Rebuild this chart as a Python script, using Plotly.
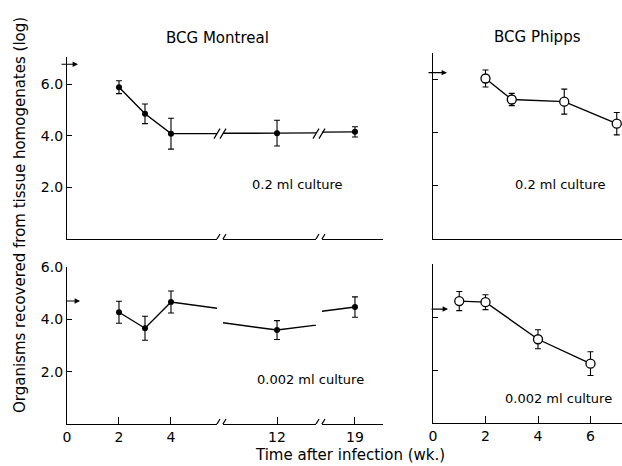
import plotly.graph_objects as go

# ---------------- data ----------------
montreal_hi_weeks = [2, 3, 4, 12, 19]
montreal_hi_vals = [5.88, 4.85, 4.08, 4.10, 4.15]
montreal_hi_err = [0.25, 0.38, 0.60, 0.50, 0.20]

montreal_lo_weeks = [2, 3, 4, 12, 19]
montreal_lo_vals = [4.27, 3.66, 4.66, 3.59, 4.47]
montreal_lo_err = [0.42, 0.46, 0.42, 0.36, 0.39]

phipps_hi_weeks = [2, 3, 5, 7]
phipps_hi_vals = [6.04, 5.25, 5.17, 4.34]
phipps_hi_err = [0.32, 0.23, 0.47, 0.42]

phipps_lo_weeks = [1, 2, 4, 6]
phipps_lo_vals = [4.60, 4.56, 3.16, 2.24]
phipps_lo_err = [0.36, 0.28, 0.36, 0.45]

# inoculum (arrow) levels: [0.2 ml, 0.002 ml]
montreal_inoculum = [6.77, 4.70]
phipps_inoculum = [6.26, 4.30]

y_tick_vals = [2, 4, 6]
y_tick_text = ["2.0", "4.0", "6.0"]
left_seg_ticks = [[0, 2, 4], [12], [19]]
right_x_ticks = [0, 2, 4, 6]

# ---------------- layout helpers ----------------
W, H = 622, 466
FONT = "DejaVu Sans"


def px(x):
    return x / W


def py(y):
    return 1 - y / H


# left panel x segments (pixel domains) and week ranges
seg_dom = [(67, 217), (223, 316), (322, 383)]
seg_rng = [(0, 5.77), (9.92, 13.5), (17.73, 20.08)]

fig = go.Figure()

layout = dict(
    width=W, height=H,
    margin=dict(l=0, r=0, t=0, b=0),
    paper_bgcolor="white", plot_bgcolor="white",
    showlegend=False,
    font=dict(family=FONT, size=14, color="black"),
)

axis_common = dict(showgrid=False, zeroline=False, showline=True, linecolor="black",
                   linewidth=1.3, automargin=False, tickcolor="black", tickwidth=1.2)

# y axes
layout["yaxis"] = dict(axis_common, domain=[py(239), py(57)], range=[0, 7.05], anchor="x",
                       tickvals=y_tick_vals, ticktext=y_tick_text, ticks="inside", ticklen=5,
                       tickfont=dict(size=14))
layout["yaxis2"] = dict(axis_common, domain=[py(424), py(267)], range=[0, 6.0], anchor="x4",
                        tickvals=y_tick_vals, ticktext=y_tick_text, ticks="inside", ticklen=5,
                        tickfont=dict(size=14))
layout["yaxis3"] = dict(axis_common, domain=[py(239), py(53)], range=[0, 7.0], anchor="x7",
                        tickvals=y_tick_vals, ticks="inside", ticklen=5, showticklabels=False)
layout["yaxis4"] = dict(axis_common, domain=[py(423), py(264)], range=[0, 6.0], anchor="x8",
                        tickvals=y_tick_vals, ticks="inside", ticklen=5, showticklabels=False)

# left panel x segments: top (x, x2, x3) and bottom (x4, x5, x6)
for i in range(3):
    top_name = "xaxis" if i == 0 else f"xaxis{i + 1}"
    layout[top_name] = dict(axis_common, domain=[px(seg_dom[i][0]), px(seg_dom[i][1])],
                            range=list(seg_rng[i]), anchor="y", ticks="", showticklabels=False)
    layout[f"xaxis{i + 4}"] = dict(axis_common, domain=[px(seg_dom[i][0]), px(seg_dom[i][1])],
                                   range=list(seg_rng[i]), anchor="y2", ticks="inside", ticklen=7,
                                   tickvals=left_seg_ticks[i],
                                   ticktext=[str(t) for t in left_seg_ticks[i]],
                                   tickfont=dict(size=14))
# right panels
layout["xaxis7"] = dict(axis_common, domain=[px(433), 1.0], range=[0, 7.2], anchor="y3",
                        ticks="", showticklabels=False)
layout["xaxis8"] = dict(axis_common, domain=[px(433), 1.0], range=[0, 7.2], anchor="y4",
                        ticks="inside", ticklen=7, tickvals=right_x_ticks,
                        ticktext=[str(t) for t in right_x_ticks], tickfont=dict(size=14))


def add_series(xs, ys, err, xa, ya, filled):
    marker = (dict(symbol="circle", size=6, color="black")
              if filled else
              dict(symbol="circle", size=9, color="white", line=dict(color="black", width=1.3)))
    fig.add_trace(go.Scatter(
        x=xs, y=ys, mode="lines+markers", xaxis=xa, yaxis=ya,
        line=dict(color="black", width=1.4), marker=marker,
        error_y=dict(type="data", array=err, visible=True, color="black", thickness=1.1, width=3),
        cliponaxis=True, hoverinfo="skip"))


for xa in ["x", "x2", "x3"]:
    add_series(montreal_hi_weeks, montreal_hi_vals, montreal_hi_err, xa, "y", True)
for xa in ["x4", "x5", "x6"]:
    add_series(montreal_lo_weeks, montreal_lo_vals, montreal_lo_err, xa, "y2", True)
add_series(phipps_hi_weeks, phipps_hi_vals, phipps_hi_err, "x7", "y3", False)
add_series(phipps_lo_weeks, phipps_lo_vals, phipps_lo_err, "x8", "y4", False)

# ---------------- break marks "//" ----------------
shapes = []


def break_mark(cx, yref, yval):
    for dx in (-3, 3):
        shapes.append(dict(type="line", xref="paper", yref=yref,
                           xsizemode="pixel", ysizemode="pixel",
                           xanchor=px(cx), yanchor=yval,
                           x0=dx - 3, x1=dx + 3, y0=-5, y1=5,
                           line=dict(color="black", width=1.2)))


for cx in (220, 319):
    break_mark(cx, "y", 0)
    break_mark(cx, "y2", 0)
    break_mark(cx, "y", montreal_hi_vals[2])

layout["shapes"] = shapes

# ---------------- annotations ----------------
ann = []


def text(x, y, s, size=14, angle=0):
    ann.append(dict(x=px(x), y=py(y), xref="paper", yref="paper", text=s, showarrow=False,
                    font=dict(family=FONT, size=size, color="black"), textangle=angle,
                    xanchor="center", yanchor="middle"))


text(217, 38, "BCG Montreal", 15)
text(537, 37, "BCG Phipps", 15)
text(297, 185, "0.2 ml culture", 13)
text(560, 184, "0.2 ml culture", 13)
text(310, 379, "0.002 ml culture", 13)
text(558, 398, "0.002 ml culture", 13)
text(350, 455, "Time after infection (wk.)", 15)
text(20, 215, "Organisms recovered from tissue homogenates (log)", 15, -90)


def arrow(head_x, tail_dx, yref, yval):
    ann.append(dict(x=px(head_x), y=yval, xref="paper", yref=yref, text="", showarrow=True,
                    ax=tail_dx, ay=0, axref="pixel", ayref="pixel",
                    arrowhead=2, arrowsize=0.9, arrowwidth=1.2, arrowcolor="black"))


arrow(78, -18, "y", montreal_inoculum[0])
arrow(80, -15, "y2", montreal_inoculum[1])
arrow(447, -20, "y3", phipps_inoculum[0])
arrow(448, -18, "y4", phipps_inoculum[1])

layout["annotations"] = ann

fig.update_layout(**layout)
fig.write_html("out.html", config={"displayModeBar": False},
               post_script="document.body.style.margin='0px';document.body.style.overflow='hidden';")
